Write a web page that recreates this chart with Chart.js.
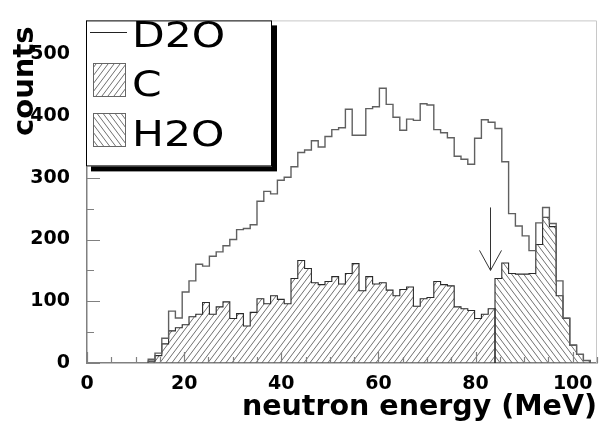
<!DOCTYPE html>
<html>
<head>
<meta charset="utf-8">
<script src="https://cdn.jsdelivr.net/npm/chart.js@4/dist/chart.umd.min.js"></script>
<style>
  html, body { margin: 0; padding: 0; background: #fff; }
  #wrap { width: 602px; height: 424px; }
</style>
</head>
<body>
<div id="wrap"><canvas id="c" width="602" height="424"></canvas></div>
<script>
// Binning of the neutron energy histograms (MeV)
const binWidth = 1.4;
const xMin = 0, xMax = 105;
const yMin = 0, yMax = 555;
const xTickValues = [0, 20, 40, 60, 80, 100];
const yTickValues = [0, 100, 200, 300, 400, 500];
const seriesLabels = ['D2O', 'C', 'H2O'];

// Counts per bin; the first entry belongs to bin index *FirstBin
const d2oFirstBin = 9;
const d2oCounts = [6, 16, 40, 84, 73, 115, 133, 160, 157, 173,
  180, 190, 200, 216, 218, 224, 262, 278, 274, 296,
  301, 318, 341, 345, 360, 350, 367, 378, 381, 411,
  369, 369, 412, 415, 445, 419, 398, 377, 395, 393,
  420, 418, 378, 373, 365, 335, 330, 322, 364, 394,
  390, 380, 326, 242, 222, 206, 182, 227, 252, 226,
  133, 73, 29, 14, 4];

const carbonFirstBin = 9;
const carbonCounts = [3, 12, 31, 52, 57, 62, 75, 79, 98, 79,
  91, 99, 72, 80, 60, 82, 104, 96, 109, 103,
  96, 137, 166, 153, 130, 127, 132, 140, 128, 145,
  161, 117, 140, 128, 130, 118, 109, 119, 123, 92,
  104, 106, 132, 127, 125, 91, 88, 85, 72, 79,
  88];

const waterFirstBin = 60;
const waterCounts = [137, 162, 145, 144, 144, 145, 192, 236, 221, 109,
  72, 29, 14, 4];

// Marker arrow (energy in MeV, counts of arrow tail and tip)
const arrowEnergy = 83;
const arrowTail = 252;
const arrowTip = 150;

// Turn bin contents into step points: left edge of each bin, closed to zero at both ends
function histPoints(firstBin, counts) {
  const pts = [{ x: firstBin * binWidth, y: 0 }];
  counts.forEach((c, k) => pts.push({ x: (firstBin + k) * binWidth, y: c }));
  pts.push({ x: (firstBin + counts.length) * binWidth, y: 0 });
  return pts;
}

const canvas = document.getElementById('c');
const ctx0 = canvas.getContext('2d');

// Diagonal hatch fills: 'up' = ///, 'down' = \\\
function makeHatch(dir) {
  const w = 6, h = 8;
  const t = document.createElement('canvas');
  t.width = w; t.height = h;
  const g = t.getContext('2d');
  g.strokeStyle = '#555';
  g.lineWidth = 0.85;
  for (const dx of [-w, 0, w]) {
    g.beginPath();
    if (dir === 'up') { g.moveTo(dx - w, 2 * h); g.lineTo(dx + 2 * w, -h); }
    else { g.moveTo(dx - w, -h); g.lineTo(dx + 2 * w, 2 * h); }
    g.stroke();
  }
  return ctx0.createPattern(t, 'repeat');
}
const hatchUp = makeHatch('up');
const hatchDown = makeHatch('down');

const axisGray = '#808080';
const tickFont = { family: 'DejaVu Sans', weight: 'bold', size: 19 };

// Frame and inward tick marks
const framePlugin = {
  id: 'frameTicks',
  afterDatasetsDraw(chart) {
    const { ctx, chartArea: a, scales: { x, y } } = chart;
    ctx.save();
    ctx.strokeStyle = '#c8c8c8';
    ctx.lineWidth = 1;
    ctx.beginPath();
    ctx.moveTo(a.left, a.top + 0.5); ctx.lineTo(a.right - 0.5, a.top + 0.5);
    ctx.lineTo(a.right - 0.5, a.bottom);
    ctx.stroke();
    ctx.strokeStyle = axisGray;
    ctx.lineWidth = 1.2;
    ctx.beginPath();
    for (let v = yMin; v <= yMax; v += 50) {
      const py = Math.round(y.getPixelForValue(v)) + 0.5;
      const len = v % 100 === 0 ? 13 : 7;
      ctx.moveTo(a.left, py); ctx.lineTo(a.left + len, py);
    }
    for (let e = xMin; e <= xMax; e += 5) {
      const px = Math.round(x.getPixelForValue(e)) + 0.5;
      const len = e % 20 === 0 ? 11 : 6;
      ctx.moveTo(px, a.bottom); ctx.lineTo(px, a.bottom - len);
    }
    ctx.stroke();
    ctx.restore();
  }
};

// Arrow marking the energy cut
const arrowPlugin = {
  id: 'cutArrow',
  afterDatasetsDraw(chart) {
    const { ctx, scales: { x, y } } = chart;
    const px = Math.round(x.getPixelForValue(arrowEnergy)) + 0.5;
    const y0 = y.getPixelForValue(arrowTail);
    const y1 = y.getPixelForValue(arrowTip);
    ctx.save();
    ctx.strokeStyle = '#333';
    ctx.lineWidth = 1;
    ctx.beginPath();
    ctx.moveTo(px, y0); ctx.lineTo(px, y1);
    ctx.moveTo(px - 11, y1 - 20); ctx.lineTo(px, y1); ctx.lineTo(px + 11, y1 - 20);
    ctx.stroke();
    ctx.restore();
  }
};

// Axis titles
const titlePlugin = {
  id: 'axisTitles',
  afterDraw(chart) {
    const { ctx, chartArea: a } = chart;
    ctx.save();
    ctx.fillStyle = '#000';
    ctx.font = 'bold 28.5px "DejaVu Sans"';
    ctx.textAlign = 'right';
    ctx.textBaseline = 'alphabetic';
    ctx.fillText('neutron energy (MeV)', a.right, 415);
    ctx.translate(33, a.top + 6);
    ctx.rotate(-Math.PI / 2);
    ctx.font = 'bold 29px "DejaVu Sans"';
    ctx.fillText('counts', 0, 0);
    ctx.restore();
  }
};

// Boxed legend with drop shadow in the upper left corner
const legendPlugin = {
  id: 'boxLegend',
  afterDraw(chart) {
    const { ctx, chartArea: a } = chart;
    const bx = a.left - 1, by = a.top, bw = 186, bh = 146, sh = 5;
    ctx.save();
    ctx.fillStyle = '#000';
    ctx.fillRect(bx + sh, by + sh, bw, bh);
    ctx.fillStyle = '#fff';
    ctx.fillRect(bx, by, bw, bh);
    ctx.strokeStyle = '#000';
    ctx.lineWidth = 1;
    ctx.strokeRect(bx + 0.5, by + 0.5, bw - 1, bh - 1);

    const ds = chart.data.datasets;
    const rows = [47, 96, 146];
    ds.forEach((d, i) => {
      const base = rows[i];
      if (!d.fill) {
        ctx.strokeStyle = '#222';
        ctx.lineWidth = 1;
        ctx.beginPath();
        ctx.moveTo(bx + 4, base - 14.5); ctx.lineTo(bx + 41, base - 14.5);
        ctx.stroke();
      } else {
        const sx = bx + 7, sy = base - 33, sw = 33, shh = 34;
        ctx.fillStyle = '#fff';
        ctx.fillRect(sx, sy, sw, shh);
        ctx.fillStyle = d.backgroundColor;
        ctx.fillRect(sx, sy, sw, shh);
        ctx.strokeStyle = '#666';
        ctx.lineWidth = 1;
        ctx.strokeRect(sx + 0.5, sy + 0.5, sw - 1, shh - 1);
      }
      ctx.save();
      ctx.translate(bx + 46, base);
      ctx.scale(1.18, 1);
      ctx.fillStyle = '#000';
      ctx.font = '36px "DejaVu Sans"';
      ctx.textAlign = 'left';
      ctx.textBaseline = 'alphabetic';
      ctx.fillText(d.label, 0, 0);
      ctx.restore();
    });
    ctx.restore();
  }
};

new Chart(canvas, {
  type: 'line',
  data: {
    datasets: [
      {
        label: seriesLabels[0],
        data: histPoints(d2oFirstBin, d2oCounts),
        stepped: 'before',
        borderColor: '#606060',
        borderWidth: 1.4,
        fill: false,
        pointRadius: 0
      },
      {
        label: seriesLabels[1],
        data: histPoints(carbonFirstBin, carbonCounts),
        stepped: 'before',
        borderColor: '#2a2a2a',
        borderWidth: 1.1,
        backgroundColor: hatchUp,
        fill: 'origin',
        pointRadius: 0
      },
      {
        label: seriesLabels[2],
        data: histPoints(waterFirstBin, waterCounts),
        stepped: 'before',
        borderColor: '#2a2a2a',
        borderWidth: 1.1,
        backgroundColor: hatchDown,
        fill: 'origin',
        pointRadius: 0
      }
    ]
  },
  options: {
    responsive: false,
    animation: false,
    devicePixelRatio: 1,
    layout: { padding: { top: 7, right: 5, left: 0, bottom: 0 } },
    plugins: { legend: { display: false }, tooltip: { enabled: false } },
    elements: { line: { tension: 0 } },
    scales: {
      x: {
        type: 'linear',
        min: xMin,
        max: xMax,
        afterBuildTicks: s => { s.ticks = xTickValues.map(v => ({ value: v })); },
        afterFit: s => { s.height = 61; },
        grid: { display: false },
        border: { display: true, color: axisGray, width: 1.5 },
        ticks: { font: tickFont, color: '#000', padding: 2, maxRotation: 0, autoSkip: false }
      },
      y: {
        type: 'linear',
        min: yMin,
        max: yMax,
        afterBuildTicks: s => { s.ticks = yTickValues.map(v => ({ value: v })); },
        afterFit: s => { s.width = 87; },
        grid: { display: false },
        border: { display: true, color: axisGray, width: 1.5 },
        ticks: { font: tickFont, color: '#000', padding: 9, autoSkip: false }
      }
    }
  },
  plugins: [framePlugin, arrowPlugin, titlePlugin, legendPlugin]
});
</script>
</body>
</html>
